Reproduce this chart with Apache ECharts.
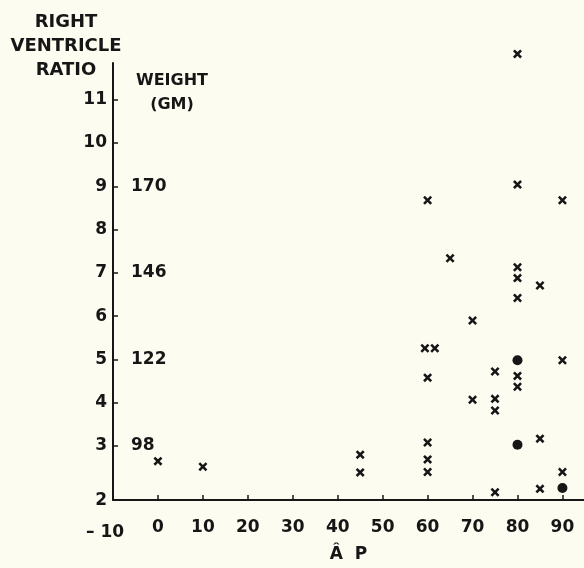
<!DOCTYPE html>
<html>
<head>
<meta charset="utf-8">
<script src="https://cdn.jsdelivr.net/npm/echarts@6/dist/echarts.min.js"></script>
<style>
    html, body { margin: 0; padding: 0; background: #fdfcf1; }
    #chart { width: 584px; height: 568px; }
</style>
</head>
<body>
<div id="chart"></div>
<script>
// x axis (A P) ticks, y axis (ratio) ticks
var xTicks = [-10, 0, 10, 20, 30, 40, 50, 60, 70, 80, 90];
var yTicks = [2, 3, 4, 5, 6, 7, 8, 9, 10, 11];
var yFloor = 1.75;   // the "2" label sits on the bottom of the axis

// weight scale printed inside the ratio axis
var weightAt = [3, 5, 7, 9];
var weightLabels = ['98', '122', '146', '170'];

// crosses
var crossAP = [0, 10, 45, 45, 59.4, 61.6, 60, 60, 60, 60, 60, 65, 70, 70, 75, 75, 75, 75,
    80, 80, 80, 80, 80, 80, 80, 85, 85, 85, 90, 90, 90];
var crossRatio = [2.65, 2.52, 2.80, 2.39, 5.26, 5.26, 8.68, 4.58, 3.08, 2.69, 2.40, 7.34, 5.90, 4.07, 4.72, 4.09, 3.82, 1.93,
    12.06, 9.04, 7.13, 6.88, 6.42, 4.62, 4.37, 6.71, 3.17, 2.01, 8.68, 4.98, 2.40];

// filled dots
var dotAP = [80, 80, 90];
var dotRatio = [4.98, 3.03, 2.03];

var ink = '#161616';
var font = 'DejaVu Sans';

var chartDom = document.getElementById('chart');
var myChart = echarts.init(chartDom);

function pairs(xs, ys) {
    var out = [];
    for (var i = 0; i < xs.length; i++) {
        out.push([xs[i], ys[i]]);
    }
    return out;
}

var labelStyle = {
    color: ink,
    fontFamily: font,
    fontWeight: 'bold',
    fontSize: 17
};

var option = {
    backgroundColor: '#fdfcf1',
    animation: false,
    grid: {
        left: 113,
        right: 0,
        top: 63,
        bottom: 60
    },
    xAxis: {
        type: 'value',
        min: -10,
        max: 94.8,
        interval: 10,
        splitLine: { show: false },
        axisLine: { onZero: false, lineStyle: { color: ink, width: 2 } },
        axisTick: {
            inside: true,
            length: 5,
            customValues: xTicks.slice(1),
            lineStyle: { color: ink, width: 1.5 }
        },
        axisLabel: Object.assign({}, labelStyle, {
            margin: 19,
            customValues: xTicks,
            formatter: function (v) {
                return v < 0 ? '{neg|– ' + Math.abs(v) + '}' : String(v);
            },
            rich: {
                neg: Object.assign({}, labelStyle, { padding: [5, 16, 0, 0] })
            }
        }),
        name: 'Â  P',
        nameLocation: 'middle',
        nameGap: 43,
        nameTextStyle: labelStyle
    },
    yAxis: [
        {
            type: 'value',
            min: yFloor,
            max: 11.85,
            splitLine: { show: false },
            axisLine: { onZero: false, lineStyle: { color: ink, width: 2 } },
            axisTick: {
                inside: true,
                length: 5,
                customValues: yTicks.slice(1),
                lineStyle: { color: ink, width: 1.5 }
            },
            axisLabel: Object.assign({}, labelStyle, {
                margin: 6,
                customValues: [yFloor].concat(yTicks.slice(1)),
                formatter: function (v) {
                    return v < yTicks[0] ? String(yTicks[0]) : String(v);
                }
            })
        },
        {
            type: 'value',
            min: yFloor,
            max: 11.85,
            position: 'left',
            splitLine: { show: false },
            axisLine: { show: false, onZero: false },
            axisTick: { show: false },
            axisLabel: Object.assign({}, labelStyle, {
                inside: true,
                margin: 18,
                customValues: weightAt,
                formatter: function (v) {
                    var i = weightAt.indexOf(v);
                    return i >= 0 ? weightLabels[i] : '';
                }
            })
        }
    ],
    graphic: [
        {
            type: 'text',
            x: 66,
            y: 10,
            style: {
                text: 'RIGHT\nVENTRICLE\nRATIO',
                textAlign: 'center',
                fill: ink,
                font: 'bold 18px "DejaVu Sans"',
                lineHeight: 24
            }
        },
        {
            type: 'text',
            x: 172,
            y: 69,
            style: {
                text: 'WEIGHT\n(GM)',
                textAlign: 'center',
                fill: ink,
                font: 'bold 16px "DejaVu Sans"',
                lineHeight: 24
            }
        }
    ],
    series: [
        {
            type: 'scatter',
            clip: false,
            symbol: 'path://M0,2 L2,0 L5,3 L8,0 L10,2 L7,5 L10,8 L8,10 L5,7 L2,10 L0,8 L3,5 Z',
            symbolSize: 9,
            itemStyle: { color: ink, opacity: 1 },
            data: pairs(crossAP, crossRatio)
        },
        {
            type: 'scatter',
            clip: false,
            symbol: 'circle',
            symbolSize: 10,
            itemStyle: { color: ink, opacity: 1 },
            data: pairs(dotAP, dotRatio)
        }
    ]
};

if (option && typeof option === 'object') {
    myChart.setOption(option, true);
}
window.addEventListener('resize', myChart.resize);
</script>
</body>
</html>
